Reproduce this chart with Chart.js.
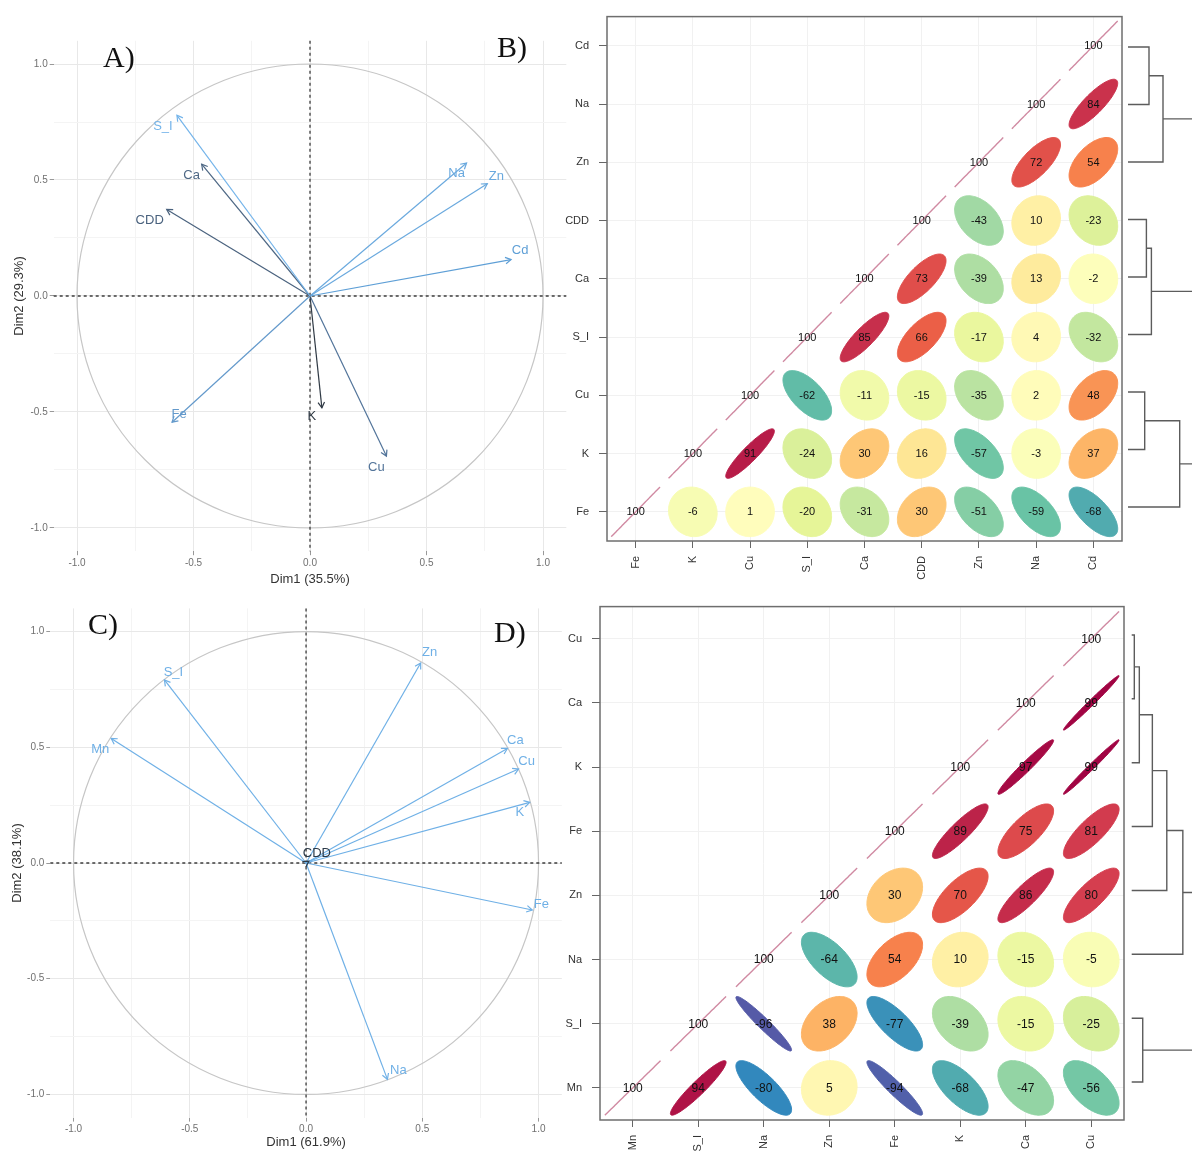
<!DOCTYPE html>
<html>
<head>
<meta charset="utf-8">
<script src="https://cdn.jsdelivr.net/npm/chart.js@4.4.1/dist/chart.umd.min.js"></script>
<style>
  html, body { margin:0; padding:0; background:#ffffff; width:1192px; height:1153px; overflow:hidden; position:relative; }
  canvas { position:absolute; display:block; }
  .plab { position:absolute; font-family:"Liberation Serif","DejaVu Serif",serif; font-size:30px; line-height:1; color:#111; white-space:nowrap; }
</style>
</head>
<body>
<canvas id="pcaA" width="580" height="590" style="left:0;top:0;width:580px;height:590px"></canvas>
<canvas id="corrB" width="580" height="590" style="left:550px;top:0;width:580px;height:590px"></canvas>
<canvas id="dendB" width="120" height="590" style="left:1120px;top:0;width:120px;height:590px"></canvas>
<canvas id="pcaC" width="580" height="563" style="left:0;top:590px;width:580px;height:563px"></canvas>
<canvas id="corrD" width="580" height="563" style="left:550px;top:590px;width:580px;height:563px"></canvas>
<canvas id="dendD" width="120" height="563" style="left:1124px;top:590px;width:120px;height:563px"></canvas>
<div class="plab" style="left:103px;top:42px">A)</div>
<div class="plab" style="left:497px;top:32px">B)</div>
<div class="plab" style="left:88px;top:609px">C)</div>
<div class="plab" style="left:494px;top:617px">D)</div>

<script>
// ---------------- DATA ----------------
// Panel A: PCA variable coordinates
const varsA = ['S_I', 'Ca', 'CDD', 'Na', 'Zn', 'Cd', 'Fe', 'K', 'Cu'];
const dim1A = [-0.571, -0.465, -0.615, 0.672, 0.761, 0.863, -0.592, 0.051, 0.328];
const dim2A = [0.779, 0.568, 0.373, 0.573, 0.484, 0.157, -0.544, -0.482, -0.690];
const titleXA = 'Dim1 (35.5%)';
const titleYA = 'Dim2 (29.3%)';

// Panel C: PCA variable coordinates
const varsC = ['Zn', 'S_I', 'Mn', 'Ca', 'Cu', 'K', 'Fe', 'Na', 'CDD'];
const dim1C = [0.493, -0.609, -0.838, 0.866, 0.914, 0.962, 0.973, 0.350, 0.012];
const dim2C = [0.864, 0.791, 0.538, 0.495, 0.406, 0.262, -0.203, -0.935, 0.008];
const titleXC = 'Dim1 (61.9%)';
const titleYC = 'Dim2 (38.1%)';

// PCA axis ticks
const pcaTicks = [-1, -0.75, -0.5, -0.25, 0, 0.25, 0.5, 0.75, 1];

// Panel B: correlation matrix (x 100), lower triangle, one array per variable
const varsB = ['Fe', 'K', 'Cu', 'S_I', 'Ca', 'CDD', 'Zn', 'Na', 'Cd'];
const corrB_Fe  = [100, -6, 1, -20, -31, 30, -51, -59, -68];
const corrB_K   = [100, 91, -24, 30, 16, -57, -3, 37];
const corrB_Cu  = [100, -62, -11, -15, -35, 2, 48];
const corrB_S_I = [100, 85, 66, -17, 4, -32];
const corrB_Ca  = [100, 73, -39, 13, -2];
const corrB_CDD = [100, -43, 10, -23];
const corrB_Zn  = [100, 72, 54];
const corrB_Na  = [100, 84];
const corrB_Cd  = [100];

// Panel B dendrogram (leaves top to bottom, merges a+b at height h)
const dendB_leaves = ['Cd', 'Na', 'Zn', 'CDD', 'Ca', 'S_I', 'Cu', 'K', 'Fe'];
const dendB_a = ['Cd', 'CDD', 'Cu', 'm1', 'm2', 'm3', 'm4', 'm7'];
const dendB_b = ['Na', 'Ca', 'K', 'Zn', 'S_I', 'Fe', 'm5', 'm6'];
const dendB_h = [2.1, 1.84, 1.67, 3.5, 2.34, 5.17, 7.6, 9.5];

// Panel D: correlation matrix (x 100), lower triangle
const varsD = ['Mn', 'S_I', 'Na', 'Zn', 'Fe', 'K', 'Ca', 'Cu'];
const corrD_Mn  = [100, 94, -80, 5, -94, -68, -47, -56];
const corrD_S_I = [100, -96, 38, -77, -39, -15, -25];
const corrD_Na  = [100, -64, 54, 10, -15, -5];
const corrD_Zn  = [100, 30, 70, 86, 80];
const corrD_Fe  = [100, 89, 75, 81];
const corrD_K   = [100, 97, 99];
const corrD_Ca  = [100, 99];
const corrD_Cu  = [100];

// Panel D dendrogram
const dendD_leaves = ['Cu', 'Ca', 'K', 'Fe', 'Zn', 'Na', 'S_I', 'Mn'];
const dendD_a = ['Cu', 'm1', 'm2', 'm3', 'm4', 'S_I', 'm5'];
const dendD_b = ['Ca', 'K', 'Fe', 'Zn', 'Na', 'Mn', 'm6'];
const dendD_h = [0.26, 0.76, 2.06, 3.5, 5.1, 1.1, 8.5];

// ---------------- STYLES ----------------
const styleA = {
  colors: ['#74b4ea', '#4d6784', '#4a627e', '#6aa9de', '#6aa9de', '#5e9fd6', '#6399cb', '#2f3944', '#52749a'],
  dx: [-14, -10, -17, -10, 9, 9, 7, -10, -10],
  dy: [11, 11, 11, 10, -7, -9, -8, 9, 11]
};
const styleC = {
  colors: ['#6fb0e6', '#6fb0e6', '#6fb0e6', '#6fb0e6', '#6fb0e6', '#6fb0e6', '#6fb0e6', '#6fb0e6', '#2c3a48'],
  dx: [9, 9, -11, 8, 8, -10, 9, 11, 8],
  dy: [-11, -7, 11, -8, -8, 10, -6, -9, -8]
};
const spectral = ['#5E4FA2','#3288BD','#66C2A5','#ABDDA4','#E6F598','#FFFFBF','#FEE08B','#FDAE61','#F46D43','#D53E4F','#9E0142'];

Chart.defaults.font.family = "'Liberation Sans', Arial, sans-serif";
Chart.defaults.animation = false;

// ---------------- HELPERS ----------------
const isMajor = v => Math.abs(v * 2 - Math.round(v * 2)) < 1e-6;

function pcaAxis(pos, title, fit) {
  return {
    type: 'linear', position: pos, min: -1.1, max: 1.1,
    afterBuildTicks: a => { a.ticks = pcaTicks.map(v => ({ value: v })); },
    afterFit: a => { if (pos === 'bottom') a.height = fit; else a.width = fit; },
    ticks: {
      autoSkip: false, maxRotation: 0, minRotation: 0, padding: 2,
      color: '#707070', font: { size: 10 },
      callback: v => isMajor(v) ? v.toFixed(1) : ''
    },
    grid: {
      color: c => (c.tick && isMajor(c.tick.value)) ? '#e8e8e8' : '#f4f4f4',
      tickColor: c => (c.tick && isMajor(c.tick.value)) ? '#999999' : 'rgba(0,0,0,0)',
      tickLength: 4, lineWidth: 1
    },
    border: { display: false },
    title: { display: true, text: title, color: '#333', font: { size: 13 }, padding: { top: 2, bottom: 3 } }
  };
}

const pcaPlugin = {
  id: 'pcaDecor',
  beforeDatasetsDraw(chart) {
    const { ctx, chartArea: a, scales: { x, y } } = chart;
    const cx = x.getPixelForValue(0), cy = y.getPixelForValue(0);
    const rx = x.getPixelForValue(1) - cx, ry = cy - y.getPixelForValue(1);
    ctx.save();
    ctx.strokeStyle = '#c6c6c6'; ctx.lineWidth = 1.2;
    ctx.beginPath(); ctx.ellipse(cx, cy, rx, ry, 0, 0, Math.PI * 2); ctx.stroke();
    ctx.setLineDash([3, 3]); ctx.strokeStyle = '#3c3c3c'; ctx.lineWidth = 1.3;
    ctx.beginPath();
    ctx.moveTo(a.left, cy); ctx.lineTo(a.right, cy);
    ctx.moveTo(cx, a.top); ctx.lineTo(cx, a.bottom);
    ctx.stroke();
    ctx.restore();
  },
  afterDatasetsDraw(chart, args, opts) {
    const { ctx } = chart;
    ctx.save();
    chart.data.datasets.forEach((ds, i) => {
      const meta = chart.getDatasetMeta(i);
      const p0 = meta.data[0], p1 = meta.data[1];
      const ang = Math.atan2(p1.y - p0.y, p1.x - p0.x);
      const L = 6.5, sp = Math.PI / 6;
      ctx.strokeStyle = ds.borderColor; ctx.lineWidth = 1.2;
      ctx.beginPath();
      ctx.moveTo(p1.x - L * Math.cos(ang - sp), p1.y - L * Math.sin(ang - sp));
      ctx.lineTo(p1.x, p1.y);
      ctx.lineTo(p1.x - L * Math.cos(ang + sp), p1.y - L * Math.sin(ang + sp));
      ctx.stroke();
      ctx.fillStyle = ds.borderColor;
      ctx.font = "13px 'Liberation Sans', Arial, sans-serif";
      ctx.textAlign = 'center'; ctx.textBaseline = 'middle';
      ctx.fillText(ds.label, p1.x + opts.dx[i], p1.y + opts.dy[i]);
    });
    ctx.restore();
  }
};

function pcaChart(id, names, d1, d2, style, tx, ty, pad, yW, xH) {
  const datasets = names.map((n, i) => ({
    label: n,
    data: [{ x: 0, y: 0 }, { x: d1[i], y: d2[i] }],
    showLine: true, borderColor: style.colors[i], borderWidth: 1.2,
    pointRadius: 0, fill: false, clip: false
  }));
  return new Chart(document.getElementById(id), {
    type: 'scatter',
    data: { datasets },
    options: {
      responsive: false, animation: false, events: [],
      layout: { padding: pad },
      plugins: { legend: { display: false }, tooltip: { enabled: false }, pcaDecor: style },
      scales: { x: pcaAxis('bottom', tx, xH), y: pcaAxis('left', ty, yW) }
    },
    plugins: [pcaPlugin]
  });
}

function corrColor(r) {
  const t = Math.max(0, Math.min(10, (r + 1) / 2 * 10));
  const i = Math.min(9, Math.floor(t)), f = t - i;
  const c1 = spectral[i], c2 = spectral[i + 1];
  const h = (c, k) => parseInt(c.substr(1 + 2 * k, 2), 16);
  const m = k => Math.round(h(c1, k) + (h(c2, k) - h(c1, k)) * f);
  return `rgb(${m(0)},${m(1)},${m(2)})`;
}

const corrPlugin = {
  id: 'corrDecor',
  afterDatasetsDraw(chart, args, opts) {
    const { ctx, chartArea: a } = chart;
    const xs = chart.scales.x, ys = chart.scales.y;
    const cw = Math.abs(xs.getPixelForValue(1) - xs.getPixelForValue(0));
    const ch = Math.abs(ys.getPixelForValue(1) - ys.getPixelForValue(0));
    const meta = chart.getDatasetMeta(0);
    const data = chart.data.datasets[0].data;
    ctx.save();
    meta.data.forEach((el, i) => {
      const r = data[i].v / 100;
      const d = Math.acos(Math.max(-1, Math.min(1, r))) / 2;
      ctx.beginPath();
      for (let s = 0; s <= 120; s++) {
        const k = s / 120 * Math.PI * 2;
        const ex = Math.cos(k + d) / 2 * 0.85 * cw;
        const ey = Math.cos(k - d) / 2 * 0.85 * ch;
        if (s === 0) ctx.moveTo(el.x + ex, el.y - ey); else ctx.lineTo(el.x + ex, el.y - ey);
      }
      ctx.closePath();
      if (Math.abs(r) > 0.999) {
        ctx.strokeStyle = 'rgba(176,60,100,0.6)'; ctx.lineWidth = 1.4; ctx.stroke();
      } else {
        const col = corrColor(r);
        ctx.fillStyle = col; ctx.fill();
        ctx.strokeStyle = col; ctx.lineWidth = 1; ctx.stroke();
      }
    });
    ctx.fillStyle = '#111';
    ctx.font = opts.font;
    ctx.textAlign = 'center'; ctx.textBaseline = 'middle';
    meta.data.forEach((el, i) => { ctx.fillText(String(data[i].v), el.x, el.y + 0.5); });
    ctx.strokeStyle = '#6e6e6e'; ctx.lineWidth = 1.5;
    ctx.strokeRect(a.left, a.top, a.right - a.left, a.bottom - a.top);
    ctx.restore();
  }
};

function corrChart(id, vars, rows, pad, yW, xH, fontSpec) {
  const pts = [];
  rows.forEach((row, i) => row.forEach((v, k) => pts.push({ x: vars[i + k], y: vars[i], v: v })));
  const tickFont = { size: 11 };
  return new Chart(document.getElementById(id), {
    type: 'scatter',
    data: { datasets: [{ data: pts, pointRadius: 0 }] },
    options: {
      responsive: false, animation: false, events: [],
      layout: { padding: pad },
      plugins: { legend: { display: false }, tooltip: { enabled: false }, corrDecor: { font: fontSpec } },
      scales: {
        x: {
          type: 'category', labels: vars, offset: true, position: 'bottom',
          afterFit: a => { a.height = xH; },
          ticks: { autoSkip: false, minRotation: 90, maxRotation: 90, padding: 8, color: '#333', font: tickFont },
          grid: { color: '#f1f1f1', tickColor: '#666', tickLength: 7, lineWidth: 1 },
          border: { display: false }
        },
        y: {
          type: 'category', labels: vars.slice().reverse(), offset: true, position: 'left',
          afterFit: a => { a.width = yW; },
          ticks: { autoSkip: false, padding: 10, color: '#333', font: tickFont },
          grid: { color: '#f1f1f1', tickColor: '#666', tickLength: 8, lineWidth: 1 },
          border: { display: false }
        }
      }
    },
    plugins: [corrPlugin]
  });
}

function dendroChart(id, leaves, A, B, H, pad, xmax) {
  const node = {};
  leaves.forEach((l, i) => { node[l] = { y: i, h: 0 }; });
  const datasets = [];
  A.forEach((a, k) => {
    const na = node[a], nb = node[B[k]], h = H[k];
    datasets.push({
      data: [{ x: na.h, y: na.y }, { x: h, y: na.y }, { x: h, y: nb.y }, { x: nb.h, y: nb.y }],
      showLine: true, borderColor: '#5c5c5c', borderWidth: 1.4, pointRadius: 0, fill: false, clip: false
    });
    node['m' + (k + 1)] = { y: (na.y + nb.y) / 2, h: h };
  });
  return new Chart(document.getElementById(id), {
    type: 'scatter',
    data: { datasets },
    options: {
      responsive: false, animation: false, events: [],
      layout: { padding: pad },
      plugins: { legend: { display: false }, tooltip: { enabled: false } },
      scales: {
        x: { type: 'linear', min: 0, max: xmax, display: false },
        y: { type: 'linear', min: -0.5, max: leaves.length - 0.5, reverse: true, display: false }
      }
    }
  });
}

// ---------------- BUILD ----------------
pcaChart('pcaA', varsA, dim1A, dim2A, styleA, titleXA, titleYA,
  { left: 10, right: 13.7, top: 40.8, bottom: 0 }, 43.7, 38.8);
pcaChart('pcaC', varsC, dim1C, dim2C, styleC, titleXC, titleYC,
  { left: 8, right: 18.2, top: 18.4, bottom: 0 }, 42.3, 35.4);

corrChart('corrB', varsB,
  [corrB_Fe, corrB_K, corrB_Cu, corrB_S_I, corrB_Ca, corrB_CDD, corrB_Zn, corrB_Na, corrB_Cd],
  { left: 0, right: 8, top: 12, bottom: 0 }, 57, 49, "11px 'Liberation Sans', Arial, sans-serif");
corrChart('corrD', varsD,
  [corrD_Mn, corrD_S_I, corrD_Na, corrD_Zn, corrD_Fe, corrD_K, corrD_Ca, corrD_Cu],
  { left: 0, right: 6, top: 9, bottom: 0 }, 50, 33, "12px 'Liberation Sans', Arial, sans-serif");

dendroChart('dendB', dendB_leaves, dendB_a, dendB_b, dendB_h,
  { left: 8, right: 0, top: 18.25, bottom: 54.25 }, 11.2);
dendroChart('dendD', dendD_leaves, dendD_a, dendD_b, dendD_h,
  { left: 7.7, right: 0, top: 13, bottom: 39 }, 11.2);
</script>
</body>
</html>
